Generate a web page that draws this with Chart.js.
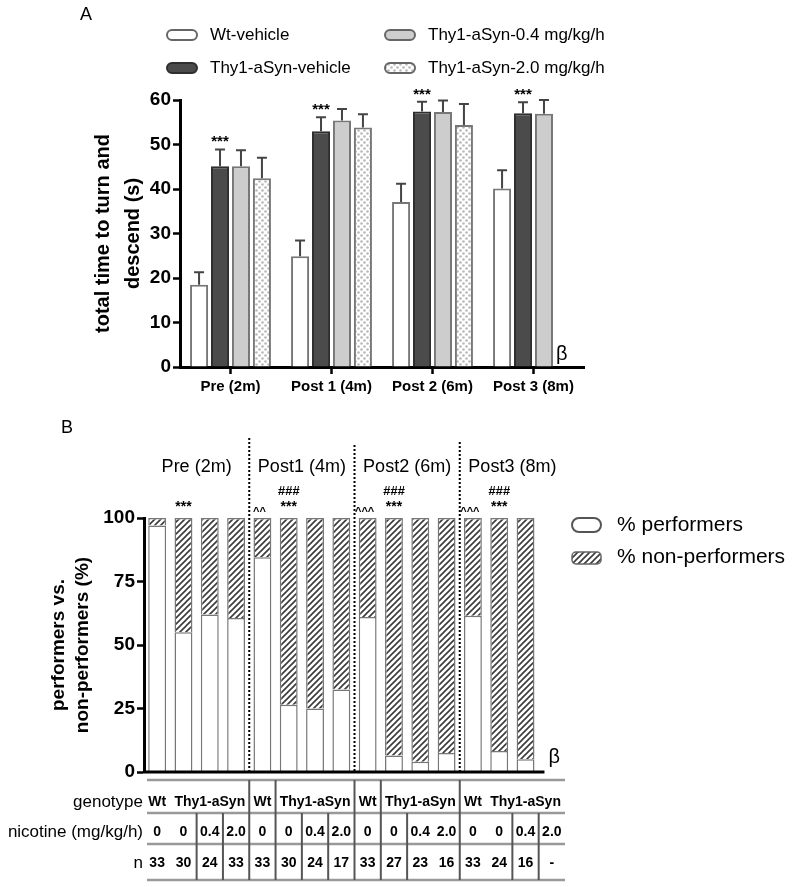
<!DOCTYPE html>
<html>
<head>
<meta charset="utf-8">
<script src="https://cdn.jsdelivr.net/npm/chart.js@4.4.0/dist/chart.umd.min.js"></script>
<style>
  body { margin: 0; background: #fff; }
  #wrap { position: relative; width: 800px; height: 887px; }
  #chartA { position: absolute; left: 0; top: 0; }
  #chartB { position: absolute; left: 0; top: 410px; }
</style>
</head>
<body>
<div id="wrap">
  <canvas id="chartA" width="800" height="410"></canvas>
  <canvas id="chartB" width="800" height="477"></canvas>
</div>
<script>
// ---- panel A data ----
const timepoints = ['Pre (2m)', 'Post 1 (4m)', 'Post 2 (6m)', 'Post 3 (8m)'];
const wtVehicle = [18.5, 24.9, 37.1, 40.1];
const wtVehicleErr = [2.8, 3.5, 4.1, 4.1];
const synVehicle = [45.1, 53.0, 57.4, 57.0];
const synVehicleErr = [3.8, 3.1, 2.2, 2.5];
const syn04 = [45.1, 55.4, 57.3, 56.9];
const syn04Err = [3.6, 2.6, 2.6, 3.1];
const syn20 = [42.4, 53.8, 54.4, null];
const syn20Err = [4.6, 3.0, 4.7, null];

// ---- panel B data ----
const groupsB = ['Pre (2m)', 'Post1 (4m)', 'Post2 (6m)', 'Post3 (8m)'];
const columnsB = ['Pre Wt 0', 'Pre Thy1 0', 'Pre Thy1 0.4', 'Pre Thy1 2.0',
                  'Post1 Wt 0', 'Post1 Thy1 0', 'Post1 Thy1 0.4', 'Post1 Thy1 2.0',
                  'Post2 Wt 0', 'Post2 Thy1 0', 'Post2 Thy1 0.4', 'Post2 Thy1 2.0',
                  'Post3 Wt 0', 'Post3 Thy1 0', 'Post3 Thy1 0.4', 'Post3 Thy1 2.0'];
const performers = [97, 55, 62, 60.6, 84.5, 26.5, 25, 32.5, 61, 6.5, 4, 7.5, 61.5, 8.3, 5, null];
const nonPerformers = [3, 45, 38, 39.4, 15.5, 73.5, 75, 67.5, 39, 93.5, 96, 92.5, 38.5, 91.7, 95, null];
const genotypeRow = ['Wt', 'Thy1-aSyn'];
const nicotineRow = ['0', '0', '0.4', '2.0', '0', '0', '0.4', '2.0', '0', '0', '0.4', '2.0', '0', '0', '0.4', '2.0'];
const nRow = ['33', '30', '24', '33', '33', '30', '24', '17', '33', '27', '23', '16', '33', '24', '16', '-'];
const starCols = [1, 5, 9, 13];
const hashCols = [5, 9, 13];
const caretMarks = { 4: '^^', 8: '^^^', 12: '^^^' };

Chart.defaults.font.family = 'Arial, "Liberation Sans", sans-serif';
Chart.defaults.color = '#000';

function dotPattern() {
  const c = document.createElement('canvas');
  c.width = 6; c.height = 6;
  const g = c.getContext('2d');
  g.fillStyle = '#fff'; g.fillRect(0, 0, 6, 6);
  g.fillStyle = '#b8b8b8';
  g.beginPath(); g.arc(1.5, 1.5, 1.3, 0, Math.PI * 2); g.fill();
  g.beginPath(); g.arc(4.5, 4.5, 1.3, 0, Math.PI * 2); g.fill();
  return g.createPattern(c, 'repeat');
}

function hatchPattern() {
  const c = document.createElement('canvas');
  c.width = 6; c.height = 6;
  const g = c.getContext('2d');
  g.fillStyle = '#fff'; g.fillRect(0, 0, 6, 6);
  g.strokeStyle = '#3a3a3a'; g.lineWidth = 1.6;
  g.beginPath();
  g.moveTo(0, 6); g.lineTo(6, 0);
  g.moveTo(-3, 3); g.lineTo(3, -3);
  g.moveTo(3, 9); g.lineTo(9, 3);
  g.stroke();
  return g.createPattern(c, 'repeat');
}

const dots = dotPattern();
const hatch = hatchPattern();

function pill(ctx, x, y, w, h, fill, stroke) {
  ctx.beginPath();
  ctx.roundRect(x, y, w, h, h / 2);
  ctx.fillStyle = fill; ctx.fill();
  ctx.lineWidth = 2; ctx.strokeStyle = stroke; ctx.stroke();
}

function rotatedText(ctx, text, x, y, font) {
  ctx.save();
  ctx.translate(x, y);
  ctx.rotate(-Math.PI / 2);
  ctx.font = font;
  ctx.textAlign = 'center';
  ctx.textBaseline = 'middle';
  ctx.fillText(text, 0, 0);
  ctx.restore();
}

// error bars + annotations for panel A
const decorA = {
  id: 'decorA',
  afterDatasetsDraw(chart) {
    const { ctx } = chart;
    const y = chart.scales.y;
    ctx.save();
    ctx.strokeStyle = '#444';
    ctx.lineWidth = 2;
    chart.data.datasets.forEach((ds, di) => {
      chart.getDatasetMeta(di).data.forEach((bar, i) => {
        const v = ds.data[i];
        if (v == null) return;
        const top = y.getPixelForValue(v + ds.err[i]);
        ctx.beginPath();
        ctx.moveTo(bar.x, bar.y); ctx.lineTo(bar.x, top);
        ctx.moveTo(bar.x - 5, top); ctx.lineTo(bar.x + 5, top);
        ctx.stroke();
      });
    });
    ctx.restore();
  },
  afterDraw(chart) {
    const { ctx, chartArea } = chart;
    const y = chart.scales.y;
    ctx.save();
    ctx.fillStyle = '#000';
    // panel letter
    ctx.font = '18px Arial';
    ctx.textAlign = 'center'; ctx.textBaseline = 'middle';
    ctx.fillText('A', 86, 15);
    // legend
    const items = [
      { t: 'Wt-vehicle', x: 167, y: 30, fill: '#fff', stroke: '#666' },
      { t: 'Thy1-aSyn-vehicle', x: 167, y: 63, fill: '#4b4b4b', stroke: '#2e2e2e' },
      { t: 'Thy1-aSyn-0.4 mg/kg/h', x: 385, y: 30, fill: '#cdcdcd', stroke: '#666' },
      { t: 'Thy1-aSyn-2.0 mg/kg/h', x: 385, y: 63, fill: dots, stroke: '#666' }
    ];
    ctx.font = '17px Arial';
    ctx.textAlign = 'left';
    items.forEach(it => {
      pill(ctx, it.x, it.y, 30, 10, it.fill, it.stroke);
      ctx.fillStyle = '#000';
      ctx.fillText(it.t, it.x + 43, it.y + 5);
    });
    // axis title
    rotatedText(ctx, 'total time to turn and', 103, (chartArea.top + chartArea.bottom) / 2, 'bold 20px Arial');
    rotatedText(ctx, 'descend (s)', 133, (chartArea.top + chartArea.bottom) / 2, 'bold 20px Arial');
    // significance stars above Thy1-aSyn-vehicle
    const meta = chart.getDatasetMeta(1);
    const ds = chart.data.datasets[1];
    ctx.font = 'bold 15px Arial';
    ctx.textAlign = 'center'; ctx.textBaseline = 'alphabetic';
    meta.data.forEach((bar, i) => {
      const top = y.getPixelForValue(ds.data[i] + ds.err[i]);
      ctx.fillText('***', bar.x, top - 3);
    });
    // beta
    ctx.font = '20px Arial';
    ctx.textAlign = 'left'; ctx.textBaseline = 'middle';
    ctx.fillText('\u03b2', chartArea.right - 28, chartArea.bottom - 13);
    ctx.restore();
  }
};

new Chart(document.getElementById('chartA'), {
  type: 'bar',
  data: {
    labels: timepoints,
    datasets: [
      { label: 'Wt-vehicle', data: wtVehicle, err: wtVehicleErr, backgroundColor: '#fff', borderColor: '#777' },
      { label: 'Thy1-aSyn-vehicle', data: synVehicle, err: synVehicleErr, backgroundColor: '#4b4b4b', borderColor: '#2e2e2e' },
      { label: 'Thy1-aSyn-0.4 mg/kg/h', data: syn04, err: syn04Err, backgroundColor: '#cdcdcd', borderColor: '#777' },
      { label: 'Thy1-aSyn-2.0 mg/kg/h', data: syn20, err: syn20Err, backgroundColor: dots, borderColor: '#777' }
    ]
  },
  options: {
    responsive: false,
    animation: false,
    devicePixelRatio: 1,
    datasets: { bar: { borderWidth: 2, categoryPercentage: 0.83, barPercentage: 0.86 } },
    layout: { padding: { left: 0, top: 100, right: 216, bottom: 0 } },
    plugins: { legend: { display: false }, tooltip: { enabled: false } },
    scales: {
      x: {
        ticks: { font: { size: 15, weight: 'bold' }, padding: 4 },
        grid: { offset: false, drawOnChartArea: false, tickLength: 7, tickWidth: 2.5, tickColor: '#000' },
        border: { width: 3, color: '#000' },
        afterFit: s => { s.height = 43; }
      },
      y: {
        min: 0, max: 60,
        ticks: { stepSize: 10, font: { size: 19, weight: 'bold' }, padding: 2 },
        grid: { drawOnChartArea: false, tickLength: 7, tickWidth: 2.5, tickColor: '#000' },
        border: { width: 3, color: '#000' },
        afterFit: s => { s.width = 180; }
      }
    }
  },
  plugins: [decorA]
});

// panel B decorations: group labels, separators, marks, legend, table
const decorB = {
  id: 'decorB',
  afterDraw(chart) {
    const { ctx, chartArea } = chart;
    const x = chart.scales.x;
    const y = chart.scales.y;
    const cx = i => x.getPixelForValue(i);
    const half = (cx(1) - cx(0)) / 2;
    const top100 = y.getPixelForValue(100);
    ctx.save();
    ctx.fillStyle = '#000';

    ctx.font = '18px Arial';
    ctx.textAlign = 'center'; ctx.textBaseline = 'middle';
    ctx.fillText('B', 67, 18);

    // y title
    const midY = (chartArea.top + chartArea.bottom) / 2;
    rotatedText(ctx, 'performers vs.', 59, midY, 'bold 19px Arial');
    rotatedText(ctx, 'non-performers (%)', 83, midY, 'bold 19px Arial');

    // x axis line
    const meta = chart.getDatasetMeta(0);
    const lastBar = meta.data[14];
    ctx.strokeStyle = '#000'; ctx.lineWidth = 3;
    ctx.beginPath();
    ctx.moveTo(chartArea.left - 1, chartArea.bottom);
    ctx.lineTo(lastBar.x + lastBar.width / 2 + 10, chartArea.bottom);
    ctx.stroke();

    // dotted separators
    ctx.lineWidth = 2; ctx.setLineDash([2, 2]);
    [4, 8, 12].forEach((k, j) => {
      const sx = cx(k) - half;
      ctx.beginPath();
      ctx.moveTo(sx, [28, 35, 32][j]);
      ctx.lineTo(sx, chartArea.bottom);
      ctx.stroke();
    });
    ctx.setLineDash([]);

    // group labels
    ctx.font = '18px Arial';
    groupsB.forEach((g, j) => {
      ctx.fillText(g, (cx(4 * j) + cx(4 * j + 3)) / 2, 57);
    });

    // significance marks
    ctx.textBaseline = 'alphabetic';
    ctx.font = 'bold 14px Arial';
    starCols.forEach(i => ctx.fillText('***', cx(i), top100 - 7));
    ctx.font = 'italic bold 13px Arial';
    hashCols.forEach(i => ctx.fillText('###', cx(i), top100 - 23));
    ctx.font = 'bold 11px Arial';
    Object.keys(caretMarks).forEach(k => ctx.fillText(caretMarks[k], cx(+k) - 3, top100 - 3));

    // beta
    ctx.font = '20px Arial';
    ctx.textAlign = 'left'; ctx.textBaseline = 'middle';
    ctx.fillText('\u03b2', lastBar.x + lastBar.width / 2 + 14, chartArea.bottom - 15);

    // legend
    pill(ctx, 572, 108, 29, 14, '#fff', '#555');
    ctx.beginPath(); ctx.roundRect(572, 142, 29, 12, 4);
    ctx.fillStyle = hatch; ctx.fill();
    ctx.lineWidth = 1.5; ctx.strokeStyle = '#666'; ctx.stroke();
    ctx.fillStyle = '#000';
    ctx.font = '21px Arial';
    ctx.fillText('% performers', 617, 115);
    ctx.fillText('% non-performers', 617, 147);

    // table
    const tLeft = chartArea.left + 3;
    const tRight = chartArea.right;
    const rowLines = [370, 403, 434, 470];
    ctx.strokeStyle = '#999'; ctx.lineWidth = 2.5;
    rowLines.forEach(ly => {
      ctx.beginPath(); ctx.moveTo(tLeft, ly); ctx.lineTo(tRight, ly); ctx.stroke();
    });
    ctx.strokeStyle = '#555'; ctx.lineWidth = 2;
    const fullLines = [4, 5, 8, 9, 12];
    const partLines = [2, 3, 6, 7, 10, 14, 15];
    fullLines.forEach(k => {
      const lx = cx(k) - half;
      ctx.beginPath(); ctx.moveTo(lx, rowLines[0]); ctx.lineTo(lx, rowLines[3]); ctx.stroke();
    });
    partLines.forEach(k => {
      const lx = cx(k) - half;
      ctx.beginPath(); ctx.moveTo(lx, rowLines[1]); ctx.lineTo(lx, rowLines[3]); ctx.stroke();
    });

    ctx.fillStyle = '#000';
    ctx.font = '17px Arial';
    ctx.textAlign = 'right'; ctx.textBaseline = 'middle';
    ctx.fillText('genotype', 143, 392);
    ctx.fillText('nicotine (mg/kg/h)', 143, 422);
    ctx.fillText('n', 143, 453);

    ctx.textAlign = 'center';
    ctx.font = 'bold 14px Arial';
    for (let j = 0; j < 4; j++) {
      ctx.fillText(genotypeRow[0], cx(4 * j), 392);
      ctx.fillText(genotypeRow[1], (cx(4 * j + 1) + cx(4 * j + 3)) / 2, 392);
    }
    nicotineRow.forEach((t, i) => ctx.fillText(t, cx(i), 422));
    nRow.forEach((t, i) => ctx.fillText(t, cx(i), 453));
    ctx.restore();
  }
};

new Chart(document.getElementById('chartB'), {
  type: 'bar',
  data: {
    labels: columnsB,
    datasets: [
      { label: '% performers', data: performers, backgroundColor: '#fff', borderColor: '#777' },
      { label: '% non-performers', data: nonPerformers, backgroundColor: hatch, borderColor: '#777' }
    ]
  },
  options: {
    responsive: false,
    animation: false,
    devicePixelRatio: 1,
    datasets: { bar: { borderWidth: 1.5, categoryPercentage: 1, barPercentage: 0.68 } },
    layout: { padding: { left: 0, top: 108, right: 235, bottom: 115 } },
    plugins: { legend: { display: false }, tooltip: { enabled: false } },
    scales: {
      x: { stacked: true, display: false },
      y: {
        stacked: true, min: 0, max: 100,
        ticks: { stepSize: 25, font: { size: 19, weight: 'bold' }, padding: 2 },
        grid: { drawOnChartArea: false, tickLength: 7, tickWidth: 2.5, tickColor: '#000' },
        border: { width: 3, color: '#000' },
        afterFit: s => { s.width = 144; }
      }
    }
  },
  plugins: [decorB]
});
</script>
</body>
</html>
